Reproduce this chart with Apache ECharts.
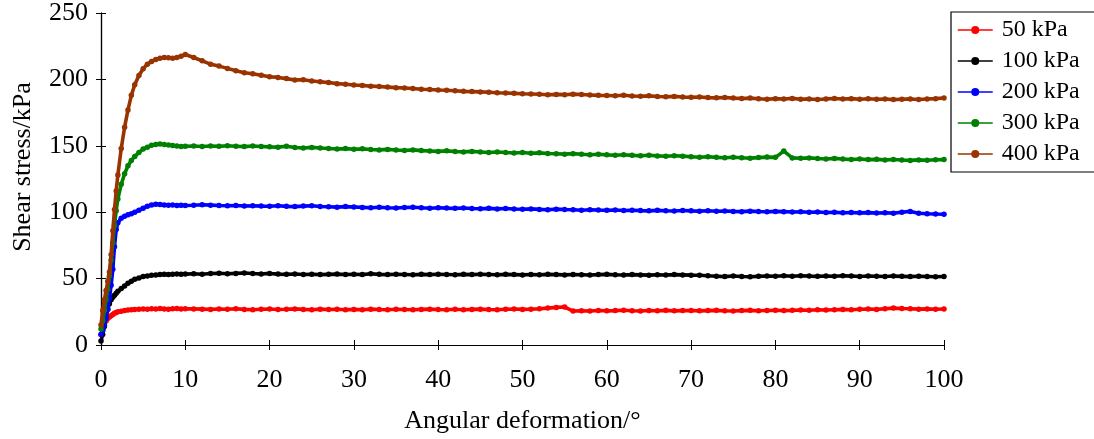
<!DOCTYPE html>
<html>
<head>
<meta charset="utf-8">
<script src="https://cdn.jsdelivr.net/npm/echarts@6/dist/echarts.min.js"></script>
<style>html,body{margin:0;padding:0;background:#fff;}#c{width:1094px;height:439px;}</style>
</head>
<body>
<div id="c"></div>
<script>
const seriesNames = ['50 kPa', '100 kPa', '200 kPa', '300 kPa', '400 kPa'];
const xTicks = [0, 10, 20, 30, 40, 50, 60, 70, 80, 90, 100];
const yTicks = [0, 50, 100, 150, 200, 250];

const xs = [0,0.2,0.4,0.6,0.8,1.0,1.2,1.4,1.6,1.8,2.0, 2.4,2.8,3.2,3.6,4.0,
  4.5,5,5.5,6,6.5,7,7.5,8,8.5,9,9.5,10,
  11,12,13,14,15,16,17,18,19,20, 21,22,23,24,25,26,27,28,29,30,
  31,32,33,34,35,36,37,38,39,40, 41,42,43,44,45,46,47,48,49,50,
  51,52,53,54,55,56,57,58,59,60, 61,62,63,64,65,66,67,68,69,70,
  71,72,73,74,75,76,77,78,79,80, 81,82,83,84,85,86,87,88,89,90,
  91,92,93,94,95,96,97,98,99,100];

const s50 = [8,12,15,18,20,21,22,23,24,24.5,25, 25.5,26,26.3,26.5,26.8,
  27,27.2,27,27.3,27.1,27.4,27.2,27,27.3,27.5,27.2,27.3,
  27.2,27.0,26.8,27.1,26.9,27.3,26.8,26.6,26.9,27.1,
  26.7,26.9,27.2,26.8,26.6,27.0,26.7,26.9,26.5,26.8,
  26.6,27.0,26.7,26.5,26.9,26.7,26.5,26.8,27.0,26.7,
  26.5,26.9,26.6,26.8,27.0,26.7,26.5,26.9,27.1,26.8,
  27.0,27.3,27.8,28.3,28.6,25.6,25.8,25.6,26.0,25.7,
  25.9,26.2,25.8,25.6,26.0,25.8,26.1,25.7,25.9,26.0,
  25.7,25.9,26.1,25.8,25.6,25.9,26.1,25.8,26.0,26.2,
  25.9,26.1,26.4,26.2,26.5,26.3,26.6,26.8,26.5,26.9,
  27.1,26.8,27.3,27.8,27.5,27.3,27.0,27.2,26.9,27.1];

const s100 = [3,8,14,21,27,31,34,36,37.5,39,40.5, 42.5,44.5,46.5,48,49.5,
  50.5,51.5,52,52.5,52.8,53,53.2,53,53.3,53.5,53.2,53.4,
  53.6,53.3,53.8,54.0,53.6,53.9,54.2,53.8,53.5,53.9,
  53.4,53.2,53.5,53.1,53.3,53.0,53.2,53.4,53.1,53.3,
  53.0,53.6,53.2,53.0,53.3,53.1,52.9,53.2,53.0,53.3,
  53.1,52.9,53.2,53.0,53.3,53.1,52.9,53.2,53.0,52.8,
  53.1,52.9,53.2,53.0,52.8,53.1,52.9,52.7,53.0,53.2,
  52.9,52.7,53.0,52.8,52.6,52.9,52.7,53.0,52.8,52.6,
  52.5,52.1,51.8,51.5,51.9,51.6,51.4,51.7,52.0,51.8,
  52.1,51.8,52.2,51.9,51.7,52.0,51.8,52.1,51.9,51.6,
  52.0,51.8,51.6,51.9,51.7,51.5,51.8,51.6,51.4,51.6];

const s200 = [8,11,15,20,27,35,45,57,74,87,92, 95.5,97,98,98.8,100,
  101.5,103,104.5,105.5,106,105.8,105.5,105.2,105.4,105.1,105.3,105.0,
  105.2,105.6,105.3,105.0,104.8,105.1,104.7,104.9,104.6,104.5,
  104.8,104.4,104.2,104.6,104.9,104.3,104.1,103.8,104.2,103.9,
  103.6,103.3,103.7,103.4,103.2,103.5,103.7,103.3,103.0,103.4,
  103.1,102.9,103.2,102.8,102.6,102.9,102.5,102.8,102.4,102.2,
  102.5,102.1,101.9,102.3,102.0,101.8,101.5,101.9,101.6,101.4,
  101.7,101.3,101.5,101.2,101.0,101.4,101.1,100.9,101.3,101.0,
  100.8,101.1,100.7,100.9,100.6,100.4,100.8,100.5,100.3,100.6,
  100.4,100.1,100.3,100.0,100.2,99.8,99.9,99.6,99.8,99.5,
  99.7,99.4,99.6,99.3,100.0,100.6,99.2,98.8,98.6,98.5];

const s300 = [12,18,26,34,42,52,64,77,90,101,110, 121,129,135,139,142,
  145,147.5,149,150.5,151,151.3,151,150.6,150.2,149.8,149.5,149.6,
  149.8,149.5,149.9,149.6,150.0,149.7,149.4,149.8,149.5,149.2,
  149.0,149.6,148.7,148.4,148.8,148.3,148.0,147.6,147.9,147.4,
  147.7,147.2,146.9,147.3,146.8,146.5,146.9,146.4,146.1,145.8,
  146.2,145.7,145.4,145.8,145.3,145.0,145.3,144.9,144.6,144.9,
  144.4,144.7,144.2,144.0,143.7,144.1,143.6,143.3,143.6,143.2,
  142.9,143.3,142.8,142.5,142.9,142.4,142.1,142.5,142.2,141.7,
  141.4,141.8,141.3,141.0,141.4,141.0,140.7,141.1,141.5,141.3,
  146.0,140.9,140.6,140.9,140.4,140.1,140.5,140.0,139.7,140.1,
  139.6,139.8,139.4,139.7,139.3,139.0,139.4,139.1,139.5,139.6];

const s400 = [15,26,34,41,48,55,68,86,102,116,128, 148,164,177,188,196,
  203,208,211.5,213.5,215,216,216.5,216.3,216,216.5,217.5,218.8,
  216.5,214,211.5,210,208.3,206.5,205,204.3,203.2,202,
  201.5,200.6,199.5,199.8,198.8,198.2,197.6,196.8,196.3,195.8,
  195.5,194.9,194.6,194.2,193.8,193.5,193.2,192.6,192.4,192.0,
  191.8,191.5,191.0,190.8,190.6,190.3,190.0,189.8,189.5,189.2,
  189.0,188.8,188.4,188.7,188.5,188.9,188.6,188.3,188.0,187.9,
  187.7,188.1,187.5,187.3,187.6,187.1,186.9,187.2,186.7,186.5,
  186.8,186.3,186.1,186.4,185.9,185.6,185.9,185.4,185.1,185.5,
  185.2,185.7,185.0,185.3,184.9,185.3,185.6,185.2,185.5,185.1,
  185.4,185.0,185.2,184.8,185.1,185.3,184.9,185.2,185.5,186.0];

const colors = ['#ff0000', '#000000', '#0000ff', '#008000', '#993300'];
const values = [s50, s100, s200, s300, s400];

const FONT = 'Liberation Serif';
const chart = echarts.init(document.getElementById('c'), null, {renderer: 'canvas'});

const series = values.map((v, k) => ({
  name: seriesNames[k],
  type: 'line',
  data: xs.map((x, i) => [x, v[i]]),
  xAxisIndex: 0,
  yAxisIndex: 0,
  symbol: 'circle',
  symbolSize: 5.5,
  showSymbol: true,
  itemStyle: {color: colors[k]},
  lineStyle: {color: colors[k], width: 3.6},
  emphasis: {disabled: true},
  z: 2 + k
}));

const axisBase = {
  axisLine: {show: true, lineStyle: {color: '#000', width: 1.2}},
  axisTick: {show: true, inside: true, length: 5, lineStyle: {color: '#000'}},
  splitLine: {show: false}
};

chart.setOption({
  animation: false,
  backgroundColor: '#fff',
  color: colors,
  textStyle: {fontFamily: FONT},
  grid: {left: 101, right: 150, top: 13, bottom: 92, containLabel: false},
  legend: {
    data: seriesNames.map(n => ({name: n, itemStyle: {}, lineStyle: {width: 1.5}})),
    orient: 'vertical',
    left: 951,
    top: 12,
    padding: [6, 16, 6, 6],
    itemWidth: 35,
    itemHeight: 10,
    itemGap: 7,
    borderColor: '#000',
    borderWidth: 1.2,
    borderRadius: 0,
    textStyle: {fontFamily: FONT, fontSize: 24, color: '#000', lineHeight: 24, padding: [0, 0, 0, 4]},
    selectedMode: false
  },
  xAxis: [
    Object.assign({}, axisBase, {
      type: 'value', min: 0, max: 100, interval: 10, position: 'bottom',
      name: 'Angular deformation/°', nameLocation: 'middle', nameGap: 63,
      nameTextStyle: {fontFamily: FONT, fontSize: 26, color: '#000'},
      axisLabel: {fontFamily: FONT, fontSize: 26, color: '#000', margin: 22,
        formatter: v => xTicks.indexOf(v) >= 0 ? String(v) : ''}
    }),
    Object.assign({}, axisBase, {
      type: 'value', min: 0, max: 100, interval: 10, position: 'top',
      axisLabel: {show: false}
    })
  ],
  yAxis: [
    Object.assign({}, axisBase, {
      type: 'value', min: 0, max: 250, interval: 50, position: 'left',
      name: 'Shear stress/kPa', nameLocation: 'middle', nameGap: 65,
      nameTextStyle: {fontFamily: FONT, fontSize: 26, color: '#000', padding: [0, 0, 0, 24]},
      axisLabel: {fontFamily: FONT, fontSize: 26, color: '#000', margin: 13,
        formatter: v => yTicks.indexOf(v) >= 0 ? String(v) : ''}
    }),
    Object.assign({}, axisBase, {
      type: 'value', min: 0, max: 250, interval: 50, position: 'right',
      axisLabel: {show: false}
    })
  ],
  series: series
});
</script>
</body>
</html>
